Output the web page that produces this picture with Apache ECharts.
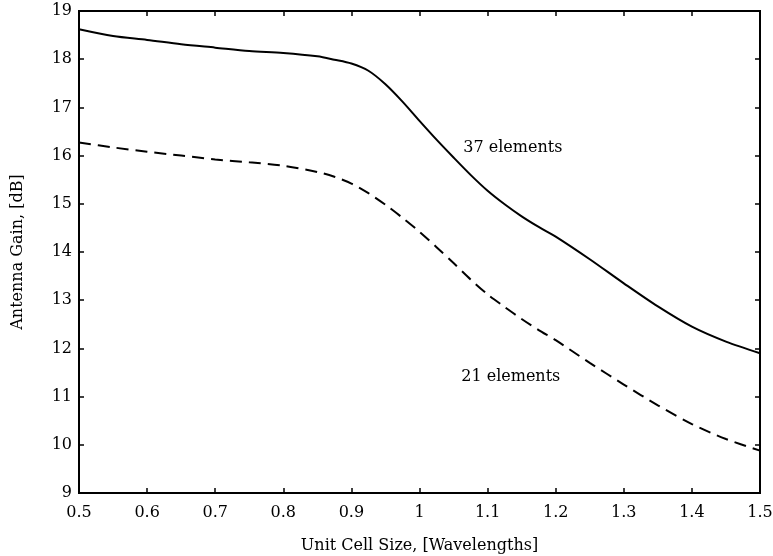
<html>
<head>
    <meta charset="utf-8">
    <title>Antenna Gain</title>
    <script src="https://cdn.jsdelivr.net/npm/echarts@6/dist/echarts.min.js"></script>
    <style>
        html, body { margin: 0; padding: 0; background: #fff; }
        #main { width: 773px; height: 556px; }
    </style>
</head>
<body>
    <div id="main"></div>
    <script type="text/javascript">
        // unit cell size [wavelengths]
        var cellSize = [0.5, 0.55, 0.6, 0.65, 0.7, 0.75, 0.8, 0.85, 0.875, 0.9, 0.925, 0.95, 0.975,
                        1.0, 1.025, 1.05, 1.075, 1.1, 1.125, 1.15, 1.175, 1.2, 1.25, 1.3, 1.35, 1.4, 1.45, 1.5];
        // gain [dB], 37 element array (solid)
        var gain37 = [18.62, 18.48, 18.40, 18.31, 18.24, 18.17, 18.13, 18.06, 17.99, 17.91, 17.76, 17.48, 17.12,
                      16.72, 16.33, 15.96, 15.60, 15.27, 14.99, 14.74, 14.52, 14.32, 13.85, 13.35, 12.87, 12.45, 12.14, 11.90];
        // gain [dB], 21 element array (dashed)
        var gain21 = [16.27, 16.17, 16.08, 16.00, 15.92, 15.86, 15.79, 15.66, 15.56, 15.42, 15.22, 14.98, 14.71,
                      14.42, 14.10, 13.77, 13.43, 13.12, 12.86, 12.61, 12.38, 12.17, 11.70, 11.25, 10.82, 10.43, 10.12, 9.88];
        var labelNames = ['37 elements', '21 elements'];
        var labelPos = [[1.137, 16.16], [1.134, 11.42]];

        function pairs(xs, ys) {
            var out = [];
            for (var i = 0; i < xs.length; i++) out.push([xs[i], ys[i]]);
            return out;
        }

        var font = 'DejaVu Serif';
        var myChart = echarts.init(document.getElementById('main'));

        var tickStyle = { show: true, inside: true, length: 5, lineStyle: { color: '#000', width: 1.5 } };
        var lineStyle = { lineStyle: { color: '#000', width: 2 } };

        var option = {
            backgroundColor: '#fff',
            animation: false,
            grid: { left: 79, right: 13, top: 11, bottom: 63, outerBoundsMode: 'none',
                    show: true, borderColor: '#000', borderWidth: 2 },
            xAxis: [
                {
                    type: 'value', min: 0.5, max: 1.5, interval: 0.1,
                    name: 'Unit Cell Size, [Wavelengths]', nameLocation: 'middle', nameGap: 45,
                    nameTextStyle: { fontFamily: font, fontSize: 16, color: '#000' },
                    axisLine: lineStyle, axisTick: tickStyle, splitLine: { show: false },
                    axisLabel: { fontFamily: font, fontSize: 16, color: '#000', margin: 12 }
                },
                {
                    type: 'value', min: 0.5, max: 1.5, interval: 0.1, position: 'top',
                    axisLine: lineStyle, axisTick: tickStyle, splitLine: { show: false },
                    axisLabel: { show: false }
                }
            ],
            yAxis: [
                {
                    type: 'value', min: 9, max: 19, interval: 1,
                    name: 'Antenna Gain, [dB]', nameLocation: 'middle', nameGap: 53,
                    nameTextStyle: { fontFamily: font, fontSize: 16, color: '#000' },
                    axisLine: lineStyle, axisTick: tickStyle, splitLine: { show: false },
                    axisLabel: { fontFamily: font, fontSize: 16, color: '#000', margin: 7 }
                },
                {
                    type: 'value', min: 9, max: 19, interval: 1, position: 'right',
                    axisLine: lineStyle, axisTick: tickStyle, splitLine: { show: false },
                    axisLabel: { show: false }
                }
            ],
            series: [
                {
                    name: labelNames[0], type: 'line', smooth: 0.3, showSymbol: false,
                    data: pairs(cellSize, gain37),
                    lineStyle: { color: '#000', width: 2 },
                    markPoint: {
                        symbol: 'circle', symbolSize: 0,
                        label: { show: true, formatter: labelNames[0], fontFamily: font, fontSize: 16, color: '#000' },
                        data: [{ coord: labelPos[0] }]
                    }
                },
                {
                    name: labelNames[1], type: 'line', smooth: 0.3, showSymbol: false,
                    data: pairs(cellSize, gain21),
                    lineStyle: { color: '#000', width: 2, type: [12, 7] },
                    markPoint: {
                        symbol: 'circle', symbolSize: 0,
                        label: { show: true, formatter: labelNames[1], fontFamily: font, fontSize: 16, color: '#000' },
                        data: [{ coord: labelPos[1] }]
                    }
                }
            ]
        };
        myChart.setOption(option);
    </script>
</body>
</html>
